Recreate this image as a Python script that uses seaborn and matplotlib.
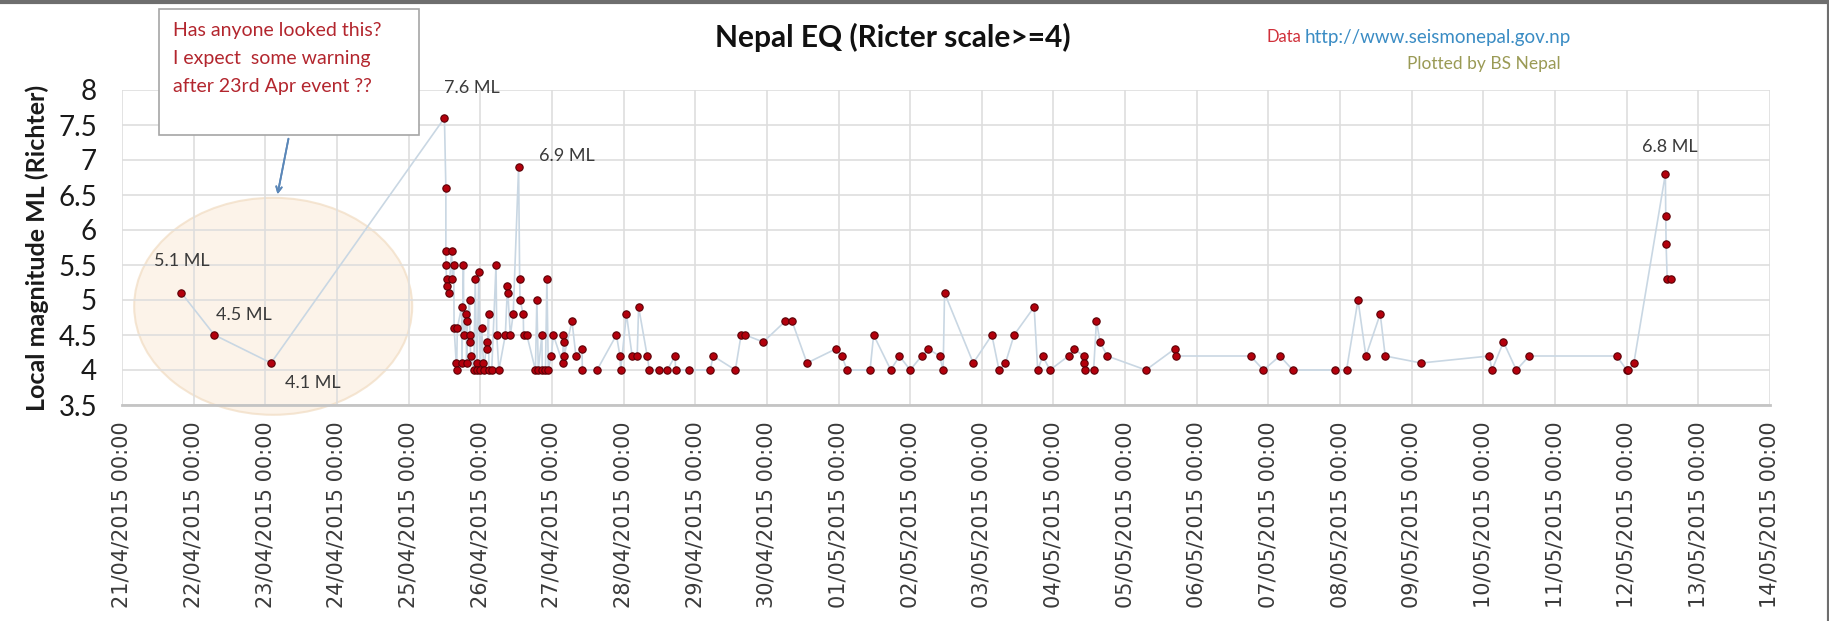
import matplotlib.pyplot as plt
import matplotlib.dates as mdates
from matplotlib.lines import Line2D
from matplotlib.patches import Ellipse, Rectangle
from matplotlib.ticker import FuncFormatter
import seaborn as sns
import numpy as np
import pandas as pd

sns.set_style("whitegrid")
plt.rcParams['font.family'] = ['Lato', 'DejaVu Sans']

# event time as day counted from 31 March (21 = 21 Apr, 31 = 1 May, 42 = 12 May)
day_apr = [
    21.83, 22.29, 23.08, 25.50, 25.52, 25.52, 25.52, 25.53, 25.54, 25.56,
    25.60, 25.61, 25.63, 25.635, 25.665, 25.67, 25.68, 25.74, 25.745, 25.765,
    25.77, 25.80, 25.81, 25.82, 25.85, 25.855, 25.86, 25.865, 25.91, 25.93,
    25.95, 25.955, 25.98, 26.00, 26.02, 26.045, 26.05, 26.09, 26.10, 26.115,
    26.12, 26.16, 26.22, 26.23, 26.26, 26.35, 26.38, 26.385, 26.42, 26.46,
    26.535, 26.55, 26.555, 26.60, 26.605, 26.65, 26.77, 26.79, 26.81, 26.86,
    26.865, 26.91, 26.93, 26.95, 26.99, 27.02, 27.15, 27.16, 27.165, 27.17,
    27.28, 27.335, 27.42, 27.425, 27.63, 27.90, 27.95, 27.96, 28.04, 28.12,
    28.19, 28.21, 28.33, 28.36, 28.49, 28.61, 28.72, 28.725, 28.92, 29.21,
    29.25, 29.56, 29.64, 29.70, 29.95, 30.26, 30.35, 30.56, 30.96, 31.045,
    31.12, 31.44, 31.49, 31.73, 31.85, 32.00, 32.16, 32.255, 32.41, 32.46,
    32.48, 32.88, 33.14, 33.24, 33.33, 33.45, 33.73, 33.78, 33.85, 33.95,
    34.21, 34.29, 34.42, 34.43, 34.44, 34.56, 34.60, 34.65, 34.75, 35.29,
    35.69, 35.71, 36.75, 36.93, 37.16, 37.34, 37.93, 38.09, 38.25, 38.36,
    38.56, 38.63, 39.13, 40.08, 40.12, 40.28, 40.46, 40.64, 41.86, 42.00,
    42.02, 42.10, 42.54, 42.545, 42.55, 42.565, 42.615,
]
magnitude = [
    5.1, 4.5, 4.1, 7.6, 6.6, 5.7, 5.5, 5.3, 5.2, 5.1,
    5.7, 5.3, 5.5, 4.6, 4.1, 4.0, 4.6, 4.9, 4.1, 5.5,
    4.5, 4.8, 4.1, 4.7, 5.0, 4.5, 4.4, 4.2, 4.0, 5.3,
    4.1, 4.0, 5.4, 4.0, 4.6, 4.1, 4.0, 4.4, 4.3, 4.8,
    4.0, 4.0, 5.5, 4.5, 4.0, 4.5, 5.2, 5.1, 4.5, 4.8,
    6.9, 5.3, 5.0, 4.8, 4.5, 4.5, 4.0, 5.0, 4.0, 4.5,
    4.0, 4.0, 5.3, 4.0, 4.2, 4.5, 4.1, 4.5, 4.4, 4.2,
    4.7, 4.2, 4.3, 4.0, 4.0, 4.5, 4.2, 4.0, 4.8, 4.2,
    4.2, 4.9, 4.2, 4.0, 4.0, 4.0, 4.2, 4.0, 4.0, 4.0,
    4.2, 4.0, 4.5, 4.5, 4.4, 4.7, 4.7, 4.1, 4.3, 4.2,
    4.0, 4.0, 4.5, 4.0, 4.2, 4.0, 4.2, 4.3, 4.2, 4.0,
    5.1, 4.1, 4.5, 4.0, 4.1, 4.5, 4.9, 4.0, 4.2, 4.0,
    4.2, 4.3, 4.2, 4.1, 4.0, 4.0, 4.7, 4.4, 4.2, 4.0,
    4.3, 4.2, 4.2, 4.0, 4.2, 4.0, 4.0, 4.0, 5.0, 4.2,
    4.8, 4.2, 4.1, 4.2, 4.0, 4.4, 4.0, 4.2, 4.2, 4.0,
    4.0, 4.1, 6.8, 6.2, 5.8, 5.3, 5.3,
]

# events that carry a "x.x ML" note, and where the note sits (pixels from the dot)
label_day = [21.83, 22.29, 23.08, 25.50, 26.535, 42.54]
label_offset = [(-27, 32), (2, 20), (14, -20), (0, 30), (20, 11), (-23, 27)]

y_ticks = [3.5, 4, 4.5, 5, 5.5, 6, 6.5, 7, 7.5, 8]

start = pd.Timestamp('2015-03-31')
df = pd.DataFrame({'time': start + pd.to_timedelta(day_apr, unit='D'),
                   'ml': magnitude})

W, H = 1829, 621
fig = plt.figure(figsize=(W / 100, H / 100), dpi=100)
ax = fig.add_axes([122 / W, 1 - 405 / H, 1648 / W, 315 / H])

# highlighted period before the main shock
ell = Ellipse((mdates.date2num(start + pd.Timedelta(days=23.11)), 4.91),
              width=3.88, height=3.1, facecolor='#fbeee0', edgecolor='#f1dcc2',
              alpha=0.7, lw=1.5, zorder=0.5, clip_on=False)
ax.add_patch(ell)

sns.lineplot(data=df, x='time', y='ml', ax=ax, sort=False, estimator=None,
             color='#c9d7e3', lw=1.2, zorder=2)
sns.scatterplot(data=df, x='time', y='ml', ax=ax, s=28, color='#b3000c',
                edgecolor='#5a0006', linewidth=0.8, zorder=3)

for d, (dx, dy) in zip(label_day, label_offset):
    m = df.loc[np.isclose(day_apr, d), 'ml'].iloc[0]
    ax.annotate(f"{m:.1f} ML", xy=(start + pd.Timedelta(days=d), m),
                xytext=(dx, dy), textcoords='offset pixels', ha='left',
                va='center', fontsize=13, color='#3a3a3a')

ax.set_xlim(pd.Timestamp('2015-04-21'), pd.Timestamp('2015-05-14'))
ax.set_ylim(3.5, 8)
ax.set_yticks(y_ticks)
ax.yaxis.set_major_formatter(FuncFormatter(lambda v, p: f"{v:g}"))
ax.xaxis.set_major_locator(mdates.DayLocator())
ax.xaxis.set_major_formatter(mdates.DateFormatter('%d/%m/%Y %H:%M'))
ax.grid(True, color='#dedede', lw=1.2)
ax.set_axisbelow(True)
for side in ['top', 'right', 'left']:
    ax.spines[side].set_visible(False)
ax.spines['bottom'].set_color('#c4c4c4')
ax.spines['bottom'].set_linewidth(2)
ax.tick_params(axis='y', labelsize=20, colors='#1a1a1a', length=0, pad=18)
ax.tick_params(axis='x', length=0, pad=12, colors='#3a3a3a')
for t in ax.get_xticklabels():
    t.set_rotation(90)
    t.set_fontfamily('DejaVu Sans')
    t.set_fontsize(15)
ax.set_xlabel('')
ax.set_ylabel('Local magnitude ML (Richter)', fontsize=18, fontweight='bold',
              color='#1a1a1a', labelpad=7)

fig.text(893 / W, 1 - 37 / H, 'Nepal EQ (Ricter scale>=4)', ha='center',
         va='center', fontsize=21.5, fontweight='bold', color='#111111')
fig.text(1266 / W, 1 - 37 / H, 'Data', ha='left', va='center', fontsize=12,
         color='#d0303a')
fig.text(1305 / W, 1 - 37 / H, 'http://www.seismonepal.gov.np', ha='left',
         va='center', fontsize=13.5, color='#3a8cc4')
fig.text(1484 / W, 1 - 64 / H, 'Plotted by BS Nepal', ha='center', va='center',
         fontsize=12.5, color='#9a9a55')

# comment box with arrow
box = Rectangle((159 / W, 1 - 135 / H), 260 / W, 126 / H, transform=fig.transFigure,
                facecolor='white', edgecolor='#a6a6a6', lw=1.2, zorder=5)
fig.patches.append(box)
fig.text(173 / W, 1 - 22 / H,
         'Has anyone looked this?\nI expect  some warning\nafter 23rd Apr event ??',
         ha='left', va='top', fontsize=14, color='#b3262e', linespacing=1.8,
         zorder=6)
fig.add_artist(plt.annotate('', xy=(277, H - 197), xycoords='figure pixels',
                            xytext=(289, H - 136), textcoords='figure pixels',
                            arrowprops=dict(arrowstyle='->', color='#5b87b8', lw=1.3)))

# screenshot edge along the top and right
fig.add_artist(Line2D([0, 1, 1], [0.997, 0.997, 0], transform=fig.transFigure,
                      color='#6e6e6e', lw=3))

fig.savefig('out.png', dpi=100)
